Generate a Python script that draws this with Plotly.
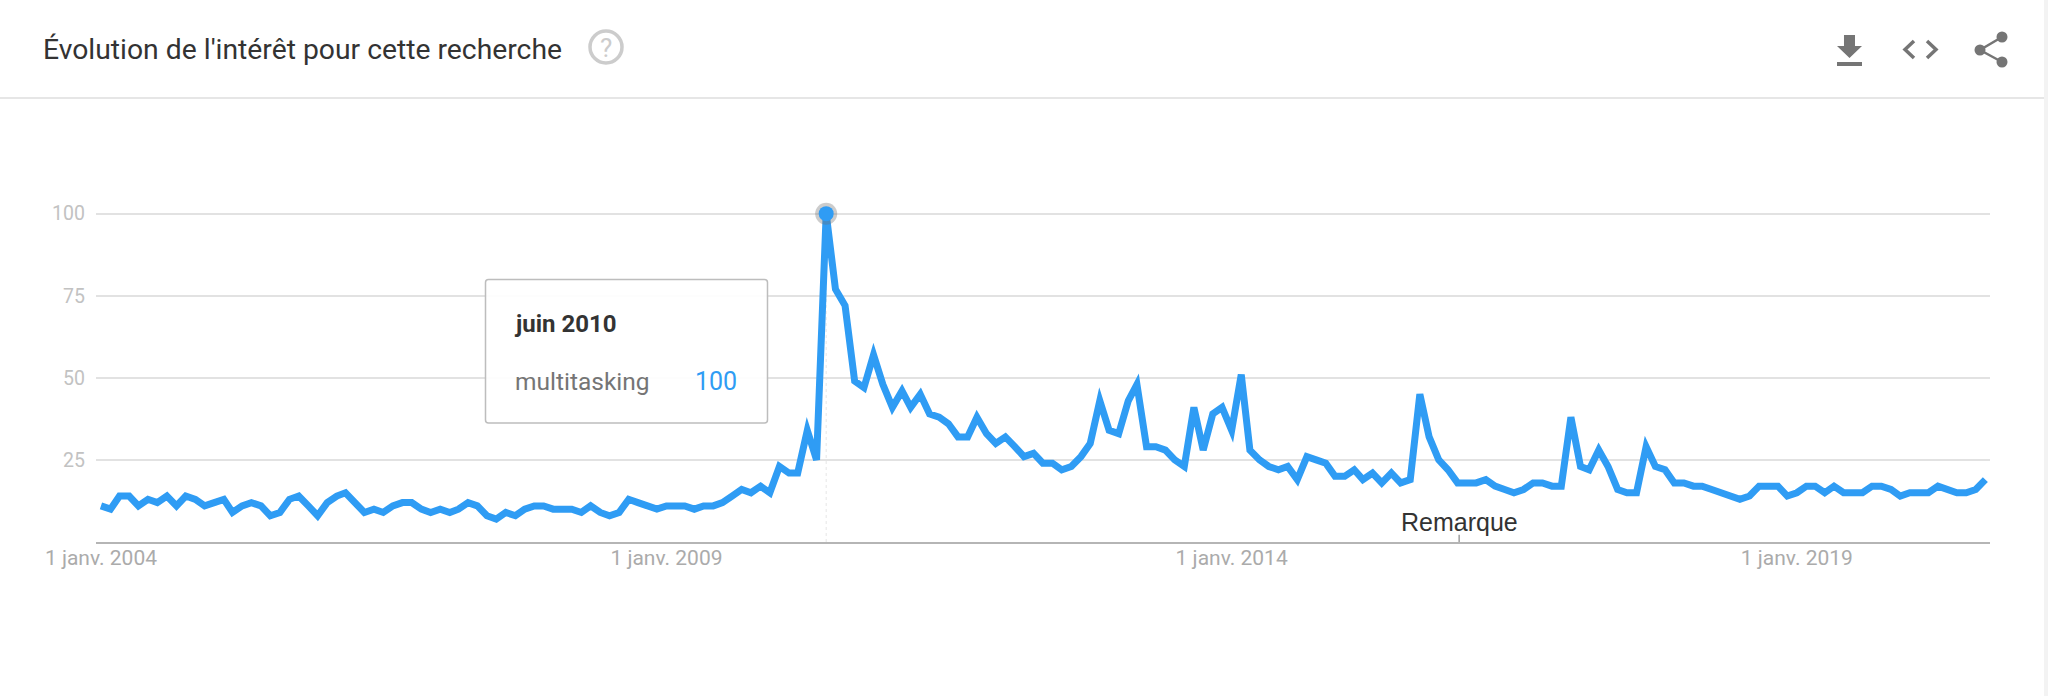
import pandas as pd
import plotly.graph_objects as go

W, H = 2048, 696
PL, PR, PT, PB = 96, 1990, 148, 542

values = [
    11, 10, 14, 14, 11, 13, 12, 14, 11, 14, 13, 11, 12, 13, 9, 11, 12, 11, 8, 9,
    13, 14, 11, 8, 12, 14, 15, 12, 9, 10, 9, 11, 12, 12, 10, 9, 10, 9, 10, 12,
    11, 8, 7, 9, 8, 10, 11, 11, 10, 10, 10, 9, 11, 9, 8, 9, 13, 12, 11, 10,
    11, 11, 11, 10, 11, 11, 12, 14, 16, 15, 17, 15, 23, 21, 21, 34, 25, 100, 77, 72,
    49, 47, 57, 48, 41, 46, 41, 45, 39, 38, 36, 32, 32, 38, 33, 30, 32, 29, 26, 27,
    24, 24, 22, 23, 26, 30, 43, 34, 33, 43, 48, 29, 29, 28, 25, 23, 41, 28, 39, 41,
    34, 51, 28, 25, 23, 22, 23, 19, 26, 25, 24, 20, 20, 22, 19, 21, 18, 21, 18, 19,
    45, 32, 25, 22, 18, 18, 18, 19, 17, 16, 15, 16, 18, 18, 17, 17, 38, 23, 22, 28,
    23, 16, 15, 15, 29, 23, 22, 18, 18, 17, 17, 16, 15, 14, 13, 14, 17, 17, 17, 14,
    15, 17, 17, 15, 17, 15, 15, 15, 17, 17, 16, 14, 15, 15, 15, 17, 16, 15, 15, 16,
    19,
]
months = pd.date_range("2004-01-01", periods=len(values), freq="MS")
x_ticks = ["2004-01-01", "2009-01-01", "2014-01-01", "2019-01-01"]
x_labels = ["1 janv. 2004", "1 janv. 2009", "1 janv. 2014", "1 janv. 2019"]
y_ticks = [25, 50, 75, 100]
peak_index = values.index(max(values))
peak_date = months[peak_index]
note_date = "2016-01-06"

BLUE = "#2f9cf4"
ICON = "#757575"

def px(v):
    return (v - PL) / (PR - PL)

def py(v):
    return (PB - v) / (PB - PT)

def deco_path(points, close=True, **kw):
    d = "M " + " L ".join(f"{px(a):.5f},{py(b):.5f}" for a, b in points) + (" Z" if close else "")
    return dict(type="path", xref="paper", yref="paper", path=d, **kw)

def deco_rect(x0, y0, x1, y1, **kw):
    return dict(type="rect", xref="paper", yref="paper", x0=px(x0), x1=px(x1), y0=py(y0), y1=py(y1), **kw)

def deco_circle(cx, cy, r, **kw):
    return dict(type="circle", xref="paper", yref="paper", x0=px(cx - r), x1=px(cx + r), y0=py(cy - r), y1=py(cy + r), **kw)

def deco_round(x0, y0, x1, y1, r, **kw):
    p = lambda a, b: f"{px(a):.5f},{py(b):.5f}"
    d = (f"M {p(x0 + r, y0)} L {p(x1 - r, y0)} Q {p(x1, y0)} {p(x1, y0 + r)} "
         f"L {p(x1, y1 - r)} Q {p(x1, y1)} {p(x1 - r, y1)} "
         f"L {p(x0 + r, y1)} Q {p(x0, y1)} {p(x0, y1 - r)} "
         f"L {p(x0, y0 + r)} Q {p(x0, y0)} {p(x0 + r, y0)} Z")
    return dict(type="path", xref="paper", yref="paper", path=d, **kw)

def text(s, x, y, size, color, xanchor="left", family="Roboto", yanchor="middle"):
    return dict(text=s, xref="paper", yref="paper", x=px(x), y=py(y), showarrow=False,
                xanchor=xanchor, yanchor=yanchor, font=dict(family=family, size=size, color=color),
                borderpad=0, borderwidth=0)

no_line = dict(width=0)
shapes = [
    # header rule
    deco_rect(0, 97, 2044, 99, fillcolor="#e6e6e6", line=no_line, layer="below"),
    # card edge
    deco_rect(2044, 0, 2048, 696, fillcolor="#f3f3f3", line=no_line, layer="below"),
    # help icon
    deco_circle(606, 47, 16, fillcolor="rgba(0,0,0,0)", line=dict(color="#cccccc", width=3.5)),
    # download icon
    deco_path([(1844, 35), (1855, 35), (1855, 46), (1862, 46), (1849.5, 58), (1837, 46), (1844, 46)],
              fillcolor=ICON, line=no_line),
    deco_rect(1837, 62, 1862, 66, fillcolor=ICON, line=no_line),
    # code icon
    deco_path([(1914, 41), (1905, 49.5), (1914, 58)], close=False, line=dict(color=ICON, width=3.5)),
    deco_path([(1927, 41), (1936, 49.5), (1927, 58)], close=False, line=dict(color=ICON, width=3.5)),
    # share icon
    deco_path([(2002, 37), (1980, 50), (2002, 62)], close=False, line=dict(color=ICON, width=2.5)),
    deco_circle(2002, 37, 5.5, fillcolor=ICON, line=no_line),
    deco_circle(1980, 50, 5.5, fillcolor=ICON, line=no_line),
    deco_circle(2002, 62, 5.5, fillcolor=ICON, line=no_line),
    # hover guide
    dict(type="line", xref="x", yref="y", x0=peak_date, x1=peak_date, y0=0, y1=max(values),
         line=dict(color="#e6e6e6", width=1, dash="dot"), layer="below"),
    # note tick
    dict(type="line", xref="x", yref="y", x0=note_date, x1=note_date, y0=0, y1=2.2,
         line=dict(color="#9e9e9e", width=1.5)),
    # tooltip
    deco_round(485.5, 279.5, 767.5, 423, 3, fillcolor="rgba(255,255,255,0.93)", line=dict(color="#bdbdbd", width=1.5)),
]

annotations = [
    text("?", 606, 48, 26, "#cccccc", xanchor="center"),
    text("<b>juin 2010</b>", 514, 324, 24, "#333333"),
    text("multitasking", 515, 381, 24.5, "#757575"),
    text("100", 737, 381, 25, BLUE, xanchor="right"),
    dict(text="Remarque", x=note_date, y=0, xref="x", yref="y", showarrow=False, yanchor="bottom",
         xanchor="center", yshift=4, font=dict(family="Liberation Sans", size=25, color="#333333")),
]

fig = go.Figure()
fig.add_trace(go.Scatter(x=months, y=values, mode="lines", hoverinfo="skip", cliponaxis=False,
                         line=dict(color=BLUE, width=7)))
fig.add_trace(go.Scatter(x=[peak_date], y=[values[peak_index]], mode="markers", hoverinfo="skip", cliponaxis=False,
                         marker=dict(color="rgba(110,110,110,0.35)", size=22)))
fig.add_trace(go.Scatter(x=[peak_date], y=[values[peak_index]], mode="markers", hoverinfo="skip", cliponaxis=False,
                         marker=dict(color=BLUE, size=15)))

fig.update_layout(
    width=W, height=H, autosize=False, showlegend=False,
    paper_bgcolor="white", plot_bgcolor="white",
    margin=dict(l=PL, r=W - PR, t=PT, b=H - PB, pad=0),
    title=dict(text="Évolution de l'intérêt pour cette recherche", x=43 / W, xanchor="left",
               y=1 - 49 / H, yanchor="middle", font=dict(family="Roboto", size=28.3, color="#333333")),
    shapes=shapes, annotations=annotations,
    xaxis=dict(type="date", range=["2003-12-16", "2020-09-16"], tickmode="array", tickvals=x_ticks,
               ticktext=x_labels, showgrid=False, zeroline=False, showline=True, linecolor="#b5b5b5",
               linewidth=2, ticks="", tickfont=dict(family="Roboto", size=21, color="#ababab"),
               ticklabelstandoff=-4),
    yaxis=dict(range=[0, 120], tickmode="array", tickvals=y_ticks, showgrid=True, gridcolor="#e2e2e2",
               gridwidth=1.5, zeroline=False, showline=False, ticks="",
               tickfont=dict(family="Roboto", size=19.5, color="#c2c2c2"), ticklabelstandoff=10),
)
post = ("document.body.style.margin='0';"
        "var s=document.createElement('style');"
        "s.textContent='.js-line{stroke-miterlimit:4 !important}';"
        "document.head.appendChild(s);")
fig.write_html("out.html", post_script=post, config={"displayModeBar": False})
